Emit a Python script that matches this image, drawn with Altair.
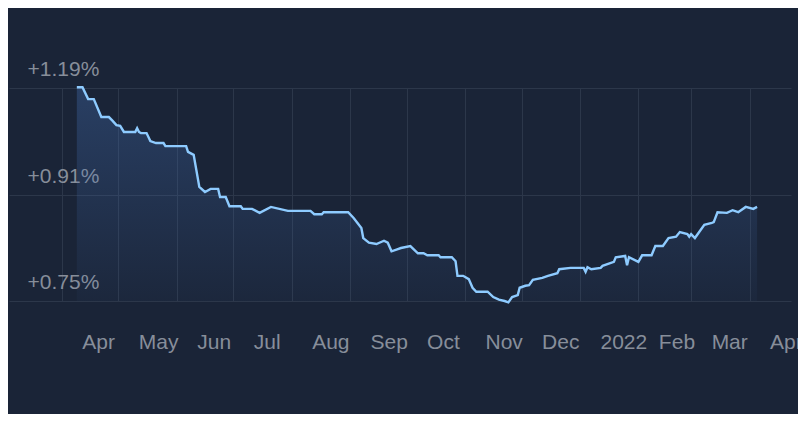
import altair as alt
import pandas as pd

dates = [
    "2021-04-09", "2021-04-12", "2021-04-15", "2021-04-18", "2021-04-22", "2021-04-26",
    "2021-04-28", "2021-04-30", "2021-05-02", "2021-05-04", "2021-05-10", "2021-05-11",
    "2021-05-12", "2021-05-13", "2021-05-16", "2021-05-18", "2021-05-21", "2021-05-25",
    "2021-05-26", "2021-06-06", "2021-06-07", "2021-06-10", "2021-06-13", "2021-06-16",
    "2021-06-19", "2021-06-23", "2021-06-24", "2021-06-27", "2021-06-29", "2021-07-05",
    "2021-07-06", "2021-07-11", "2021-07-15", "2021-07-21", "2021-07-30", "2021-08-11",
    "2021-08-13", "2021-08-17", "2021-08-18", "2021-08-31", "2021-09-03", "2021-09-07",
    "2021-09-08", "2021-09-11", "2021-09-15", "2021-09-19", "2021-09-21", "2021-09-23",
    "2021-09-26", "2021-09-28", "2021-10-03", "2021-10-07", "2021-10-10", "2021-10-12",
    "2021-10-18", "2021-10-19", "2021-10-25", "2021-10-27", "2021-10-28", "2021-10-31",
    "2021-11-03", "2021-11-05", "2021-11-07", "2021-11-13", "2021-11-16", "2021-11-19",
    "2021-11-22", "2021-11-24", "2021-11-26", "2021-11-29", "2021-11-30", "2021-12-03",
    "2021-12-05", "2021-12-07", "2021-12-12", "2021-12-15", "2021-12-20", "2021-12-21",
    "2021-12-27", "2022-01-03", "2022-01-04", "2022-01-05", "2022-01-07", "2022-01-12",
    "2022-01-13", "2022-01-19", "2022-01-20", "2022-01-25", "2022-01-26", "2022-01-27",
    "2022-02-01", "2022-02-03", "2022-02-08", "2022-02-10", "2022-02-14", "2022-02-17",
    "2022-02-21", "2022-02-23", "2022-02-27", "2022-02-28", "2022-03-01", "2022-03-03",
    "2022-03-05", "2022-03-08", "2022-03-12", "2022-03-13", "2022-03-15", "2022-03-20",
    "2022-03-23", "2022-03-26", "2022-03-30", "2022-04-03", "2022-04-05",
]
values = [
    1.192, 1.192, 1.161, 1.161, 1.114, 1.114,
    1.104, 1.093, 1.091, 1.075, 1.075, 1.085,
    1.075, 1.072, 1.072, 1.051, 1.046, 1.046,
    1.038, 1.038, 1.023, 1.015, 0.931, 0.918,
    0.926, 0.926, 0.907, 0.907, 0.893, 0.893,
    0.889, 0.889, 0.883, 0.892, 0.886, 0.886,
    0.881, 0.881, 0.884, 0.884, 0.875, 0.860,
    0.845, 0.838, 0.836, 0.841, 0.838, 0.825,
    0.828, 0.830, 0.833, 0.822, 0.822, 0.819,
    0.819, 0.816, 0.816, 0.810, 0.788, 0.788,
    0.783, 0.770, 0.764, 0.764, 0.756, 0.752,
    0.750, 0.748, 0.756, 0.759, 0.770, 0.773,
    0.774, 0.782, 0.785, 0.788, 0.792, 0.798,
    0.800, 0.800, 0.794, 0.801, 0.798, 0.800,
    0.803, 0.809, 0.816, 0.818, 0.804, 0.816,
    0.809, 0.819, 0.819, 0.833, 0.833, 0.845,
    0.847, 0.854, 0.851, 0.847, 0.851, 0.845,
    0.853, 0.865, 0.868, 0.869, 0.884, 0.883,
    0.887, 0.884, 0.892, 0.889, 0.892,
]
y_ticks = [0.75, 0.91, 1.19]
month_ticks = [(2021, m) for m in range(4, 13)] + [(2022, m) for m in range(1, 5)]

df = pd.DataFrame({"date": dates, "value": values})

BG = "#1a2437"
GRID = "#2c374a"
TEXT = "#878e9a"
FONT = "Liberation Sans"

x_enc = alt.X(
    "date:T",
    scale=alt.Scale(
        type="utc",
        domain=[alt.DateTime(year=2021, month=3, date=4, utc=True),
                alt.DateTime(year=2022, month=4, date=23, utc=True)],
    ),
    axis=alt.Axis(
        title=None,
        values=[alt.DateTime(year=y, month=m, date=1, utc=True) for y, m in month_ticks],
        labelExpr="utcmonth(datum.value) == 0 ? utcFormat(datum.value, '%Y') : utcFormat(datum.value, '%b')",
        domain=False, ticks=False, tickSize=0,
        labelAlign="left", labelBaseline="alphabetic",
        labelPadding=-7, labelOffset=20,
        labelFlush=False, labelOverlap=False,
        grid=True, gridColor=GRID, gridWidth=1,
        labelColor=TEXT, labelFontSize=21, labelFont=FONT,
    ),
)
y_scale = alt.Scale(domain=y_ticks, range=[267, 161, 54], zero=False, nice=False)
y_enc = alt.Y(
    "value:Q",
    scale=y_scale,
    axis=alt.Axis(
        title=None,
        values=y_ticks,
        labelExpr="'+' + format(datum.value, '.2f') + '%'",
        domain=False, ticks=False, tickSize=0,
        labelAlign="left", labelBaseline="alphabetic",
        labelPadding=-18, labelOffset=-13,
        labelOverlap=False,
        grid=True, gridColor=GRID, gridWidth=1,
        labelColor=TEXT, labelFontSize=21, labelFont=FONT,
    ),
)

area = alt.Chart(df).mark_area(
    fill=alt.Gradient(
        gradient="linear",
        stops=[alt.GradientStop(color="rgba(70,115,185,0.34)", offset=0),
               alt.GradientStop(color="rgba(70,115,185,0.04)", offset=1)],
        x1=0, x2=0, y1=0, y2=1,
    ),
).encode(x=x_enc, y=y_enc, y2=alt.datum(0.75))

line = alt.Chart(df).mark_line(color="#8ecbff", strokeWidth=2.4).encode(x=x_enc, y=y_enc)

chart = (area + line).properties(
    width=782, height=321,
    autosize=alt.AutoSizeParams(type="none"),
    padding={"left": 1, "top": 26, "right": 7, "bottom": 59},
    background=BG,
).configure_view(stroke=None)

chart.save("out.html", embed_options={"renderer": "svg", "actions": False})
